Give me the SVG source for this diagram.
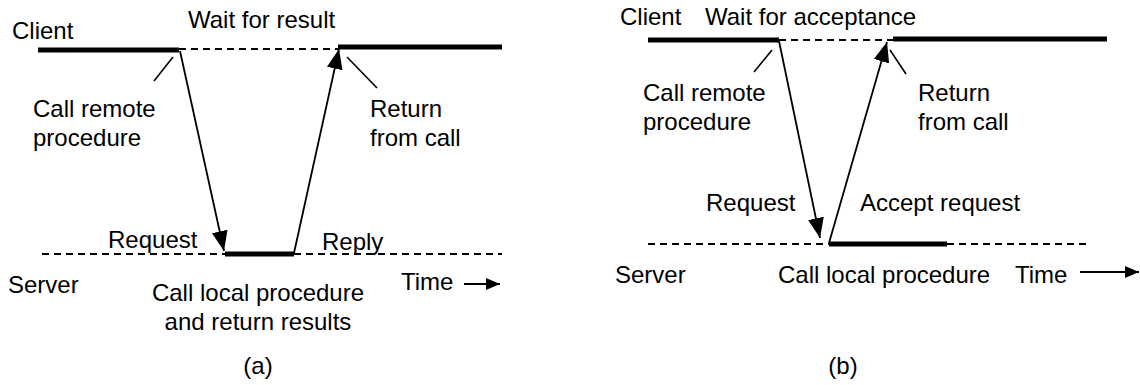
<svg xmlns="http://www.w3.org/2000/svg" width="1140" height="385" viewBox="0 0 1140 385">
<defs>
<marker id="ah" viewBox="0 0 14 12" refX="14" refY="6" markerWidth="14" markerHeight="12" orient="auto" markerUnits="userSpaceOnUse">
<path d="M0,0 L14,6 L0,12 z" fill="#000"/>
</marker>
<marker id="big" viewBox="0 0 20 16" refX="20" refY="8" markerWidth="20" markerHeight="16" orient="auto" markerUnits="userSpaceOnUse">
<path d="M0,0 L20,8 L0,16 z" fill="#000"/>
</marker>
</defs>
<style>
text{font-family:"Liberation Sans",Arial,sans-serif;font-size:24px;fill:#000}
.thick{stroke:#000;stroke-width:5;fill:none}
.dash{stroke:#000;stroke-width:1.8;stroke-dasharray:7,5;fill:none}
.thin{stroke:#000;stroke-width:1.6;fill:none}
.msg{stroke:#000;stroke-width:1.8;fill:none;marker-end:url(#big)}
.time{stroke:#000;stroke-width:2;fill:none;marker-end:url(#ah)}
</style>
<g id="panel-a">
<g id="a-labels">
<text x="12" y="39">Client</text>
<text x="188" y="28">Wait for result</text>
<text x="33" y="117">Call remote</text>
<text x="33" y="146">procedure</text>
<text x="370" y="117">Return</text>
<text x="370" y="146">from call</text>
<text x="108" y="248">Request</text>
<text x="322" y="250">Reply</text>
<text x="8" y="293">Server</text>
<text x="258" y="301" text-anchor="middle">Call local procedure</text>
<text x="258" y="330" text-anchor="middle">and return results</text>
<text x="401" y="290">Time</text>
<text x="258" y="374" text-anchor="middle">(a)</text>
</g>
<g id="a-client">
<line class="thick" x1="38" y1="50" x2="179" y2="50"/>
<line class="dash" x1="179" y1="49" x2="338" y2="49"/>
<line class="thick" x1="338" y1="47" x2="502" y2="47"/>
</g>
<g id="a-server">
<line class="dash" x1="42" y1="254" x2="225" y2="254"/>
<line class="thick" x1="225" y1="254" x2="294" y2="254"/>
<line class="dash" x1="294" y1="254" x2="502" y2="254"/>
</g>
<g id="a-connectors">
<line class="thin" x1="173" y1="57" x2="154" y2="81"/>
<line class="thin" x1="347" y1="57" x2="377" y2="88"/>
<line class="msg" x1="180" y1="51" x2="224" y2="251"/>
<line class="msg" x1="294" y1="253" x2="339" y2="49"/>
<line class="time" x1="464" y1="284" x2="500" y2="284"/>
</g>
</g>
<g id="panel-b">
<g id="b-labels">
<text x="620" y="25">Client</text>
<text x="705" y="25">Wait for acceptance</text>
<text x="643" y="101">Call remote</text>
<text x="643" y="130">procedure</text>
<text x="918" y="101">Return</text>
<text x="918" y="130">from call</text>
<text x="706" y="211">Request</text>
<text x="860" y="211">Accept request</text>
<text x="615" y="283">Server</text>
<text x="778" y="283">Call local procedure</text>
<text x="1015" y="283">Time</text>
<text x="843" y="374" text-anchor="middle">(b)</text>
</g>
<g id="b-client">
<line class="thick" x1="648" y1="40" x2="779" y2="40"/>
<line class="dash" x1="779" y1="40" x2="893" y2="40"/>
<line class="thick" x1="893" y1="39" x2="1107" y2="39"/>
</g>
<g id="b-server">
<line class="dash" x1="648" y1="244" x2="829" y2="244"/>
<line class="thick" x1="829" y1="244" x2="947" y2="244"/>
<line class="dash" x1="947" y1="244" x2="1087" y2="244"/>
</g>
<g id="b-connectors">
<line class="thin" x1="772" y1="50" x2="754" y2="72"/>
<line class="thin" x1="890" y1="50" x2="906" y2="74"/>
<line class="msg" x1="779" y1="41" x2="820" y2="238"/>
<line class="msg" x1="829" y1="243" x2="887" y2="42"/>
<line class="time" x1="1080" y1="272" x2="1139" y2="272"/>
</g>
</g>
</svg>
